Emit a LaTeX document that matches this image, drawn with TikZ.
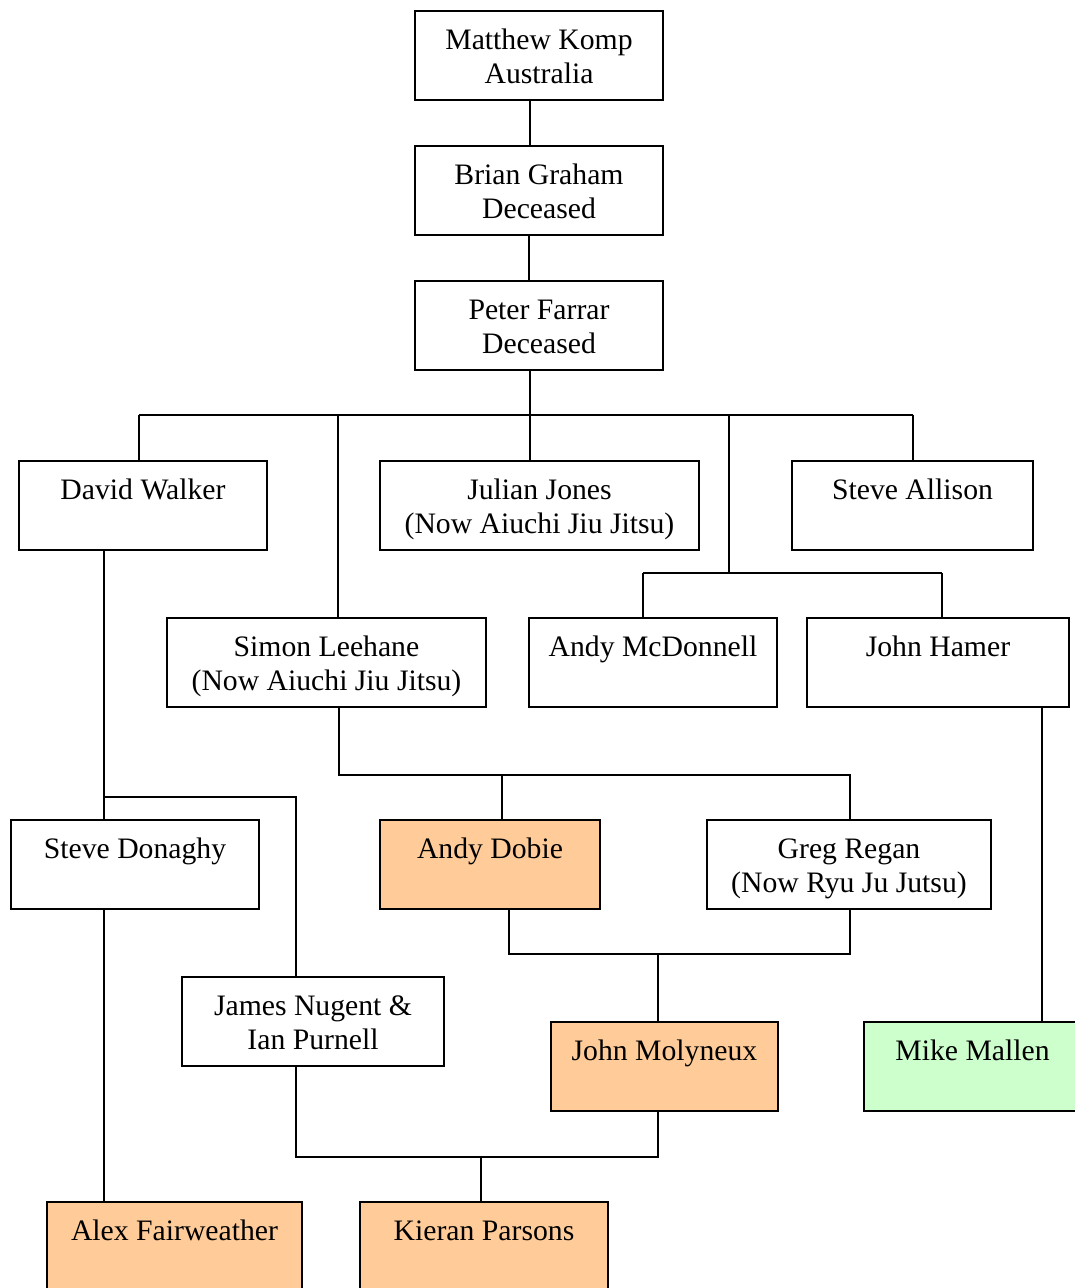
\documentclass[tikz,border=0pt]{standalone}
\usepackage{fontspec}
\setmainfont{Liberation Serif}
\usetikzlibrary{positioning}
\definecolor{porange}{HTML}{FFCC99}
\definecolor{pgreen}{HTML}{CCFFCC}
\tikzset{
  box/.style={draw=black, line width=1.5pt, rectangle, inner sep=0pt},
  txt/.style={inner sep=0pt, align=center, font=\fontsize{29.7}{34}\selectfont},
  conn/.style={draw=black, line width=1.4pt},
}
\newcommand\mybox[7]{%
  \node[box, fill=#6, minimum width={(#4)-(#2)}, minimum height={(#5)-(#3)}] (#1) at ({((#2)+(#4))/2},{((#3)+(#5))/2}) {};
  \node[txt, below=15.2pt of #1.north] (#1-t) {#7};
}
\begin{document}
\begin{tikzpicture}[x=1pt, y=-1pt]
\useasboundingbox (0,0) rectangle (1075,1288);
\clip (0,0) rectangle (1075,1288);
\fill[white] (0,0) rectangle (1075,1288);

\mybox{mk}{415}{11}{663}{100}{white}{\strut Matthew Komp\\\strut Australia}
\mybox{bg}{415}{146}{663}{235}{white}{\strut Brian Graham\\\strut Deceased}
\mybox{pf}{415}{281}{663}{370}{white}{\strut Peter Farrar\\\strut Deceased}
\mybox{dw}{19}{461}{267}{550}{white}{\strut David Walker}
\mybox{jj}{380}{461}{699}{550}{white}{\strut Julian Jones\\\strut (Now Aiuchi Jiu Jitsu)}
\mybox{sa}{792}{461}{1033}{550}{white}{\strut Steve Allison}
\mybox{sl}{167}{618}{486}{707}{white}{\strut Simon Leehane\\\strut (Now Aiuchi Jiu Jitsu)}
\mybox{am}{529}{618}{777}{707}{white}{\strut Andy McDonnell}
\mybox{jh}{807}{618}{1069}{707}{white}{\strut John Hamer}
\mybox{sd}{11}{820}{259}{909}{white}{\strut Steve Donaghy}
\mybox{ad}{380}{820}{600}{909}{porange}{\strut Andy Dobie}
\mybox{gr}{707}{820}{991}{909}{white}{\strut Greg Regan\\\strut (Now Ryu Ju Jutsu)}
\mybox{jn}{182}{977}{444}{1066}{white}{\strut James Nugent \&\\\strut Ian Purnell}
\mybox{jm}{551}{1022}{778}{1111}{porange}{\strut John Molyneux}
\mybox{mm}{864}{1022}{1081}{1111}{pgreen}{\strut Mike Mallen}
\mybox{af}{47}{1202}{302}{1300}{porange}{\strut Alex Fairweather}
\mybox{kp}{360}{1202}{608}{1300}{porange}{\strut Kieran Parsons}

% junction coordinates
\coordinate (top) at (530,415);
\coordinate (busL) at (139,415);
\coordinate (busR) at (913,415);
\coordinate (slj) at (338,415);
\coordinate (amj) at (729,415);
\coordinate (amjb) at (729,573);
\coordinate (amL) at (643,573);
\coordinate (amR) at (942,573);
\coordinate (dwj) at (104,797);
\coordinate (jnj) at (296,797);
\coordinate (slb) at (339,775);
\coordinate (adj) at (502,775);
\coordinate (grj) at (850,775);
\coordinate (adb) at (509,954);
\coordinate (grb) at (850,954);
\coordinate (jmj) at (658,954);
\coordinate (jnb) at (296,1157);
\coordinate (jmb) at (658,1157);
\coordinate (kpj) at (481,1157);
\coordinate (jhx) at (1042,800);

\draw[conn] (mk.south -| top) -- (bg.north -| top);
\draw[conn] (bg.south -| 529,0) -- (pf.north -| 529,0);
\draw[conn] (pf.south -| top) -- (jj.north -| top);
\draw[conn] (busL) -- (busR);
\draw[conn] (busL) -- (dw.north -| busL);
\draw[conn] (slj) -- (sl.north -| slj);
\draw[conn] (busR) -- (sa.north -| busR);
\draw[conn] (amj) -- (amjb);
\draw[conn] (amL) -- (amR);
\draw[conn] (amL) -- (am.north -| amL);
\draw[conn] (amR) -- (jh.north -| amR);
\draw[conn] (dw.south -| dwj) -- (sd.north -| dwj);
\draw[conn] (dwj) -- (jnj) -- (jn.north -| jnj);
\draw[conn] (sl.south -| slb) -- (slb) -- (grj) -- (gr.north -| grj);
\draw[conn] (adj) -- (ad.north -| adj);
\draw[conn] (ad.south -| adb) -- (adb) -- (grb) -- (gr.south -| grb);
\draw[conn] (jmj) -- (jm.north -| jmj);
\draw[conn] (jh.south -| jhx) -- (mm.north -| jhx);
\draw[conn] (sd.south -| dwj) -- (af.north -| dwj);
\draw[conn] (jn.south -| jnb) -- (jnb) -- (jmb) -- (jm.south -| jmb);
\draw[conn] (kpj) -- (kp.north -| kpj);
\end{tikzpicture}
\end{document}
